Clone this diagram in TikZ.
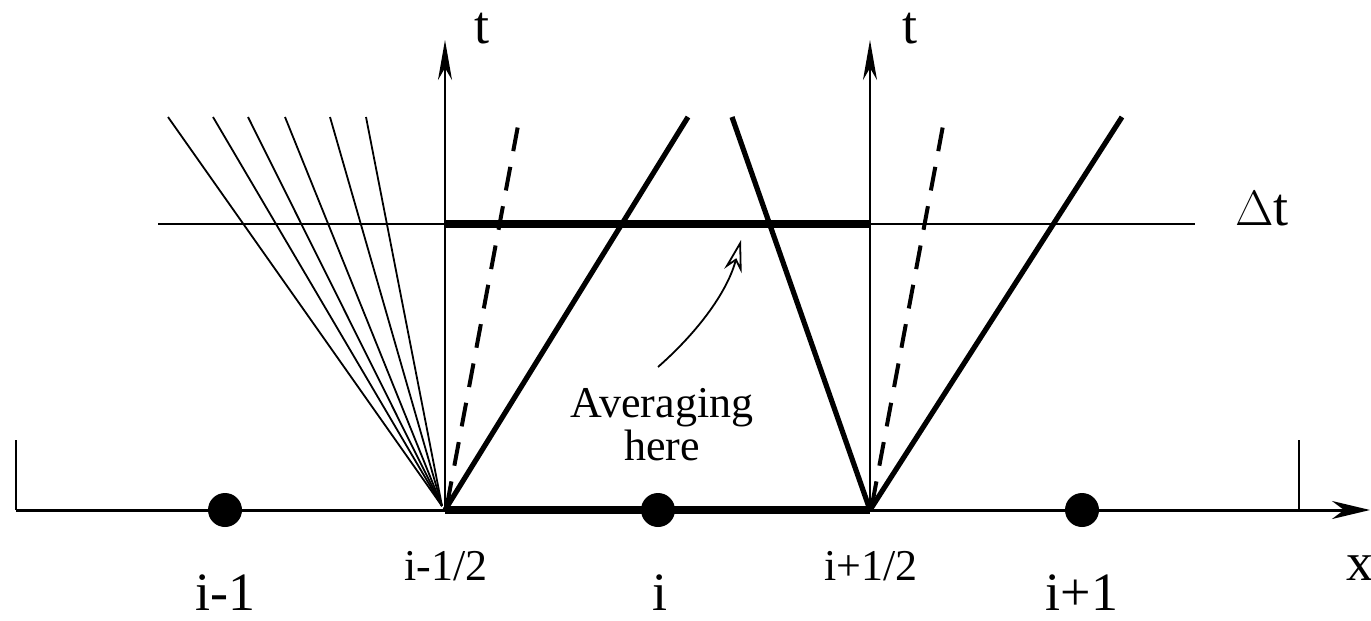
\documentclass[tikz,border=0pt]{standalone}
\usepackage{fontspec}
\setmainfont{Liberation Serif}
\usetikzlibrary{arrows.meta}
\tikzset{
  axisline/.style={line width=1.5pt},
  taxis/.style={line width=1pt,-{Stealth[length=20pt,width=7pt,inset=6pt]}},
  fanline/.style={line width=0.9pt},
  charline/.style={line width=2.6pt},
  dashchar/.style={line width=2pt,dash pattern=on 12pt off 8pt},
  thickseg/.style={line width=4pt},
  celldot/.style={circle,fill=black,inner sep=0pt,minimum size=17pt},
  biglabel/.style={font=\fontsize{27}{30}\selectfont,inner sep=0pt,anchor=base},
  halflabel/.style={font=\fontsize{22}{24}\selectfont,inner sep=0pt,anchor=base},
}
\begin{document}
\begin{tikzpicture}[x=0.5pt,y=-0.5pt]
\useasboundingbox (0,0) rectangle (1371,621);
% key points
\coordinate (L0) at (16,510);
\coordinate (Lt) at (16,440);
\coordinate (R0) at (1299,510);
\coordinate (Rt) at (1299,440);
\coordinate (xend) at (1370,510);
\coordinate (A) at (445,510);
\coordinate (B) at (870,510);
\coordinate (At) at (445,40);
\coordinate (Bt) at (870,40);
\coordinate (F) at (442,506);
\coordinate (D0) at (158,224);
\coordinate (D1) at (1195,224);
\coordinate (DA) at (445,224);
\coordinate (DB) at (870,224);
% x axis and ticks
\draw[axisline,-{Stealth[length=19pt,width=9pt,inset=6pt]}] (L0) -- (xend);
\draw[line width=1pt] (L0) -- (Lt);
\draw[line width=1pt] (R0) -- (Rt);
\draw[thickseg] (A) -- (B);
% t axes
\draw[taxis] (A) -- (At);
\draw[taxis] (B) -- (Bt);
% Delta t line
\draw[line width=1.2pt] (D0) -- (D1);
\draw[thickseg] (DA) -- (DB);
% fan
\foreach \px in {168,213,248,285,330,366}{
  \coordinate (ft) at (\px,117);
  \draw[fanline] (F) -- (ft);
}
% characteristics
\coordinate (c1) at (688,117);
\coordinate (c2) at (732,117);
\coordinate (c3) at (1122,117);
\coordinate (d1) at (520,115);
\coordinate (d2) at (945,115);
\draw[charline] (A) -- (c1);
\draw[charline] (c2) -- (B);
\draw[charline] (B) -- (c3);
\draw[dashchar] (447,505) -- (d1);
\draw[dashchar] (872,505) -- (d2);
% dots
\node[celldot] (pm) at (225,510) {};
\node[celldot] (p0) at (658,510) {};
\node[celldot] (pp) at (1082,510) {};
% labels
\node[biglabel] (tl1) at (482,43) {t};
\node[biglabel] (tl2) at (910,43) {t};
\node[biglabel] (dtl) at (1262,225) {$\Delta$t};
\node[biglabel] (xl) at (1360,580) {x};
\node[biglabel] (lm) at (225,610) {i-1};
\node[biglabel] (l0) at (660,610) {i};
\node[biglabel] (lp) at (1082,610) {i+1};
\node[halflabel] (hm) at (446,580) {i-1/2};
\node[halflabel] (hp) at (871,580) {i+1/2};
\node[font=\fontsize{22}{20}\selectfont,align=center,inner sep=0pt,anchor=base] (avg) at (662,460) {Averaging\\here};
% averaging arrow
\coordinate (as) at (658,367);
\coordinate (ae) at (741,240);
\draw[line width=0.9pt,-{Stealth[open,length=16pt,width=9pt]}] (as) .. controls (700,330) and (728,290) .. (ae);
\end{tikzpicture}
\end{document}
